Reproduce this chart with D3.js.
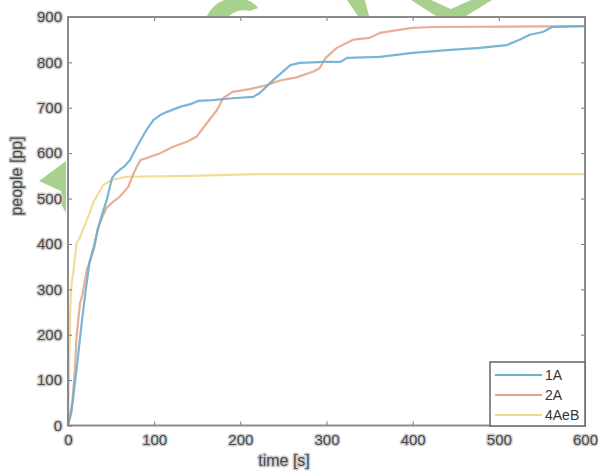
<!DOCTYPE html>
<html>
<head>
<meta charset="utf-8">
<script src="https://cdn.jsdelivr.net/npm/d3@7"></script>
<style>
  body { margin: 0; background: #fff; }
  svg { display: block; font-family: "Liberation Sans", Arial, sans-serif; }
  .halo { paint-order: stroke; stroke: #cfcfcf; stroke-width: 3px; stroke-linejoin: round; }
</style>
</head>
<body>
<svg id="chart"></svg>
<script>
WIDTH = 598
HEIGHT = 473

// series: time [s] and people [pp]
seriesNames = ["1A", "2A", "4AeB"];
seriesColors = ["#6aaed2", "#e4a68a", "#f2d88c"];

time1A = [0, 4, 10, 16, 20, 25, 30, 35, 40, 45, 51, 55, 60, 66, 72, 80, 91, 99, 107, 115, 130, 142, 151, 168, 191, 215, 223, 238, 258, 269, 284, 296, 316, 324, 362, 400, 440, 478, 509, 524, 536, 551, 562, 600];
people1A = [0, 30, 124, 228, 290, 360, 395, 435, 468, 497, 545, 555, 563, 572, 585, 614, 651, 673, 684, 691, 702, 708, 715, 717, 721, 724, 733, 761, 794, 799, 800, 801, 801, 810, 812, 821, 827, 832, 838, 850, 861, 867, 878, 880];

time2A = [0, 2, 5, 8, 10, 14, 17, 22, 26, 31, 34, 40, 45, 52, 60, 70, 76, 84, 91, 107, 122, 138, 149, 161, 173, 180, 191, 211, 231, 246, 265, 285, 292, 299, 312, 331, 350, 362, 382, 400, 424, 600];
people2A = [0, 20, 50, 124, 197, 270, 290, 345, 364, 395, 430, 460, 480, 492, 504, 526, 555, 585, 589, 600, 614, 625, 636, 666, 695, 721, 735, 741, 750, 760, 767, 780, 787, 810, 832, 850, 854, 865, 871, 876, 878, 880];

time4AeB = [0, 1, 2, 3, 4.6, 6, 10, 14, 17, 25, 29, 33, 41, 51, 68, 142, 223, 600];
people4AeB = [0, 100, 197, 280, 320, 335, 402, 415, 430, 468, 490, 504, 530, 541, 548, 550, 554, 554];

xTicks = [0, 100, 200, 300, 400, 500, 600];
yTicks = [0, 100, 200, 300, 400, 500, 600, 700, 800, 900];

var svg = d3.select("#chart").attr("width", WIDTH).attr("height", HEIGHT);

var x = d3.scaleLinear().domain([0, 600]).range([68, 585]);
var y = d3.scaleLinear().domain([0, 900]).range([425.5, 17]);

// green background scraps
var green = svg.append("g").attr("fill", "#a9d18e");
green.append("path").attr("d", "M207,16 Q214,1 232,-2 Q252,-2 258,8 L250,11 Q238,8 229,16 Z");
green.append("path").attr("d", "M347,0 L365,0 L369,16 L358,16 Z");
green.append("path").attr("fill-rule", "evenodd")
  .attr("d", "M411,0 L492,0 L466,16 L436,16 Z M431,0 L471,0 L451,9 Z");
green.append("path").attr("d", "M39,181 L66,161 L66,213 L62,206 L61,191 Z");

var plot = svg.append("g");

var lineGen = d3.line()
  .x(function (d) { return x(d[0]); })
  .y(function (d) { return y(d[1]); });

var allSeries = [
  d3.zip(time1A, people1A),
  d3.zip(time2A, people2A),
  d3.zip(time4AeB, people4AeB)
];

// draw 1A on top like the picture: order 4AeB, 2A, 1A
[2, 1, 0].forEach(function (i) {
  plot.append("path")
    .datum(allSeries[i])
    .attr("fill", "none")
    .attr("stroke", seriesColors[i])
    .attr("stroke-width", 2.2)
    .attr("stroke-opacity", 0.9)
    .attr("stroke-linejoin", "round")
    .attr("d", lineGen);
});

// axes with inward ticks on all four sides
function styleAxis(g) {
  g.select(".domain").remove();
  g.selectAll(".tick line").attr("stroke", "#777").attr("stroke-width", 1);
  g.selectAll(".tick text")
    .attr("class", "halo")
    .attr("fill", "#4a4a4a")
    .attr("font-size", "15px");
}

svg.append("g")
  .attr("transform", "translate(0,425.5)")
  .call(d3.axisBottom(x).tickValues(xTicks).tickSize(-4).tickPadding(9))
  .call(styleAxis);

svg.append("g")
  .attr("transform", "translate(68,0)")
  .call(d3.axisLeft(y).tickValues(yTicks).tickSize(-4).tickPadding(6))
  .call(styleAxis);

svg.append("g")
  .attr("transform", "translate(0,17)")
  .call(d3.axisTop(x).tickValues(xTicks).tickSize(-4).tickFormat(""))
  .call(styleAxis);

svg.append("g")
  .attr("transform", "translate(585,0)")
  .call(d3.axisRight(y).tickValues(yTicks).tickSize(-4).tickFormat(""))
  .call(styleAxis);

svg.append("rect")
  .attr("x", 68).attr("y", 17)
  .attr("width", 517).attr("height", 408.5)
  .attr("fill", "none")
  .attr("stroke", "#8a8a8a")
  .attr("stroke-width", 2);

// axis labels
svg.append("text")
  .attr("class", "halo")
  .attr("text-anchor", "middle")
  .attr("transform", "translate(22,176) rotate(-90)")
  .attr("fill", "#4a4a4a")
  .attr("font-size", "16px")
  .text("people [pp]");

svg.append("text")
  .attr("class", "halo")
  .attr("text-anchor", "middle")
  .attr("x", 284)
  .attr("y", 466)
  .attr("fill", "#4a4a4a")
  .attr("font-size", "16px")
  .text("time [s]");

// legend
var legend = svg.append("g");
legend.append("rect")
  .attr("x", 490).attr("y", 362)
  .attr("width", 95).attr("height", 64)
  .attr("fill", "#fff")
  .attr("stroke", "#666")
  .attr("stroke-width", 1.5);

seriesNames.forEach(function (name, i) {
  var ly = 375 + i * 20;
  legend.append("line")
    .attr("x1", 495).attr("x2", 542)
    .attr("y1", ly).attr("y2", ly)
    .attr("stroke", seriesColors[i])
    .attr("stroke-width", 2);
  legend.append("text")
    .attr("x", 545).attr("y", ly + 5)
    .attr("fill", "#333")
    .attr("font-size", "14px")
    .text(name);
});
</script>
</body>
</html>
